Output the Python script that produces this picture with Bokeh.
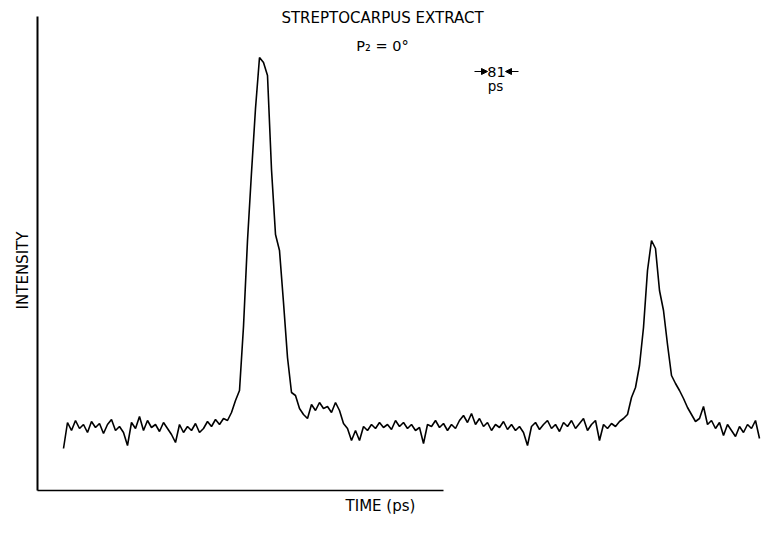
import math
from bokeh.plotting import figure
from bokeh.models import Range1d, FixedTicker, Label, Arrow, NormalHead, LinearAxis
from bokeh.embed import file_html
from bokeh.resources import INLINE

# ---- data (channel index, arbitrary intensity counts) ----
channel = list(range(175))
intensity = [
    42, 68, 60, 70, 62, 66, 58, 69, 63, 67,
    57, 66, 71, 60, 64, 58, 45, 68, 62, 74,
    60, 70, 63, 66, 59, 68, 62, 56, 48, 66,
    58, 64, 60, 67, 58, 62, 69, 64, 71, 66,
    72, 70, 78, 90, 100, 164, 250, 318, 382, 433,
    428, 415, 321, 256, 240, 188, 133, 98, 95, 82,
    76, 72, 86, 80, 88, 82, 84, 78, 88, 80,
    67, 62, 50, 60, 50, 64, 60, 66, 62, 68,
    63, 66, 61, 70, 64, 68, 62, 66, 60, 63,
    47, 66, 64, 70, 63, 67, 60, 66, 62, 70,
    75, 68, 77, 66, 72, 64, 68, 60, 66, 63,
    69, 61, 66, 60, 64, 58, 45, 64, 68, 61,
    66, 70, 62, 66, 59, 68, 64, 70, 62, 67,
    72, 60, 66, 70, 50, 66, 62, 67, 64, 69,
    72, 76, 93, 103, 125, 163, 220, 250, 242, 200,
    180, 146, 115, 107, 100, 92, 83, 76, 69, 72,
    84, 66, 70, 62, 68, 55, 66, 60, 54, 64,
    58, 66, 62, 70, 52,
]

title_text = "STREPTOCARPUS EXTRACT"
subtitle_text = "P\u2082 = 0\u00b0"
x_label_text = "TIME (ps)"
y_label_text = "INTENSITY"
scale_value_text = "81"
scale_unit_text = "ps"

W, H = 766, 531
FONT = "DejaVu Sans"


# screen position (pixels in the picture) -> data coordinates, for annotations
def px(sx):
    return (sx - 63) / 4.0


def py(sy):
    return 490 - sy


AX_X = px(37)        # left axis location
AX_TOP = py(16)      # top of left axis
AX_XEND = px(443)    # end of bottom axis

p = figure(width=W, height=H, output_backend="svg", toolbar_location=None,
           x_range=Range1d(px(0), px(W)), y_range=Range1d(py(H), py(0)),
           x_axis_type=None, y_axis_type=None,
           min_border=0, min_border_left=0, min_border_right=0,
           min_border_top=0, min_border_bottom=0)
p.outline_line_color = None
p.grid.visible = False
p.background_fill_color = "white"
p.border_fill_color = "white"


def bare_axis(**kw):
    ax = LinearAxis(ticker=FixedTicker(ticks=[]), major_tick_in=0, major_tick_out=0,
                    minor_tick_in=0, minor_tick_out=0,
                    major_label_text_font_size="0px", axis_line_color="black", **kw)
    return ax


yax = bare_axis(fixed_location=AX_X, bounds=(0, AX_TOP), axis_line_width=2)
xax = bare_axis(fixed_location=0, bounds=(AX_X, AX_XEND), axis_line_width=1.5)
p.add_layout(yax, "left")
p.add_layout(xax, "below")

p.line(channel, intensity, line_color="black", line_width=1.6)


def lab(text, x, y, size, angle=0.0):
    p.add_layout(Label(x=px(x), y=py(y), text=text, text_font=FONT,
                       text_font_size=size, text_color="black",
                       text_align="center", text_baseline="middle",
                       angle=angle))


lab(title_text, 382, 17, "15px")
lab(subtitle_text, 382, 45, "14.5px")
lab(scale_value_text, 496, 71, "14.5px")
lab(scale_unit_text, 495, 85, "13.5px")
lab(x_label_text, 380, 505, "15px")
lab(y_label_text, 22, 270, "15px", angle=math.pi / 2)

for xs, xe in ((474, 487), (518, 505)):
    p.add_layout(Arrow(end=NormalHead(size=6, fill_color="black", line_color="black"),
                       x_start=px(xs), y_start=py(71), x_end=px(xe), y_end=py(71),
                       line_color="black", line_width=1.2))

open("out.html", "w").write(file_html(p, INLINE))
